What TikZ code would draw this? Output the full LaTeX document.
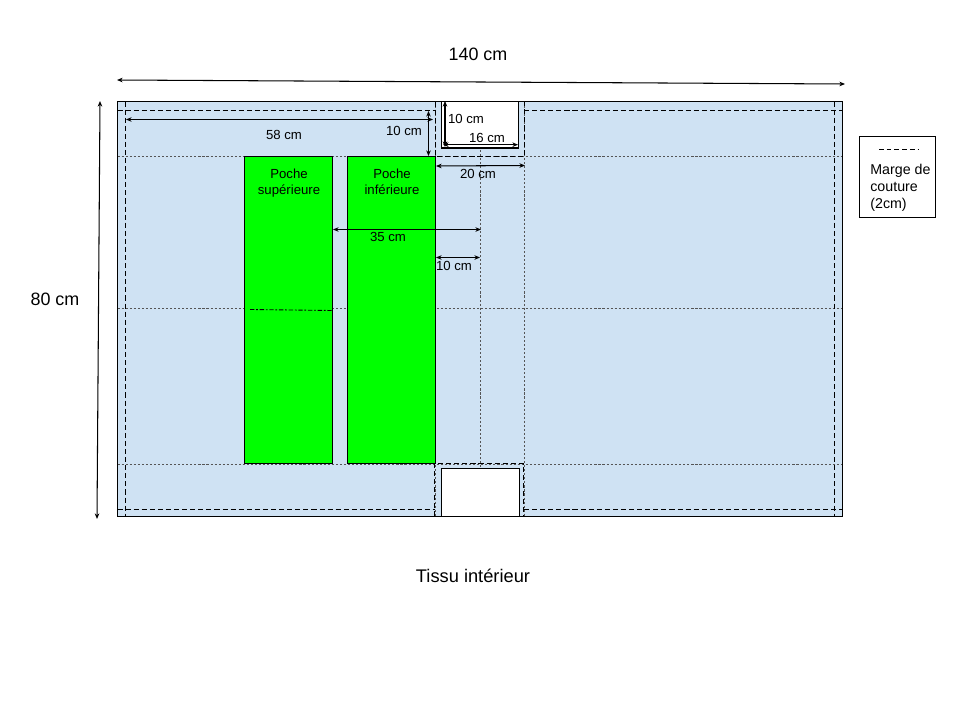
\documentclass[tikz,border=0pt]{standalone}
\usepackage{fontspec}
\setmainfont{Liberation Sans}
\usetikzlibrary{arrows.meta,positioning}
\definecolor{sheetColor}{HTML}{CFE2F3}
\definecolor{pocketColor}{HTML}{00FF00}
\definecolor{guideColor}{HTML}{555555}
\tikzset{
	panel/.style={draw, line width=0.7pt, inner sep=0, outer sep=0},
	seam/.style={line width=0.6pt, dash pattern=on 2.9pt off 1.7pt},
	guide/.style={guideColor, line width=0.5pt, dash pattern=on 1.2pt off 1.1pt},
	cote/.style={{Stealth[length=3.2pt,width=2.6pt]}-{Stealth[length=3.2pt,width=2.6pt]}, line width=0.6pt},
	small/.style={font=\fontsize{7.5}{9.2}\selectfont, inner sep=0, align=center},
	big/.style={font=\fontsize{10.2}{12}\selectfont, inner sep=0}
}
\begin{document}
\begin{tikzpicture}[x=0.02cm,y=-0.02cm]
	\useasboundingbox (0,0) rectangle (960,720);
	% tissu
	\node[panel, fill=sheetColor, minimum width=14.5cm, minimum height=8.3cm] (sheet) at (480,309) {};
	% reperes
	\draw[guide] (sheet.west |- 0,156.5) -- (sheet.east |- 0,156.5);
	\draw[guide] (sheet.west |- 0,308) -- (sheet.east |- 0,308);
	\draw[guide] (sheet.west |- 0,464.5) -- (sheet.east |- 0,464.5);
	\foreach \x in {435.5,480.5,524} {
		\draw[guide] (\x,101.5) -- (\x,516.5);
	}
	% marges de couture
	\draw[seam] (117.5,110.5) -- (435,110.5);
	\draw[seam] (524,110.5) -- (842.5,110.5);
	\draw[seam] (117.5,509.5) -- (435,509.5);
	\draw[seam] (524,509.5) -- (842.5,509.5);
	\draw[seam] (125.5,101.5) -- (125.5,516.5);
	\draw[seam] (834.5,101.5) -- (834.5,516.5);
	\draw[seam] (435.3,101.5) -- (435.3,156.3) -- (524.5,156.3) -- (524.5,101.5);
	\draw[seam] (434.5,516.5) -- (434.5,463.5) -- (523.5,463.5) -- (523.5,516.5);
	% poches
	\node[panel, fill=pocketColor, minimum width=1.76cm, minimum height=6.14cm] (pocketsup) at (288.5,310) {};
	\node[panel, fill=pocketColor, minimum width=1.76cm, minimum height=6.14cm] (pocketinf) at (391.5,310) {};
	\node[small] (labsup) at (289,183.2) {Poche\\supérieure};
	\node[small] (labinf) at (392,182) {Poche\\inférieure};
	\draw[seam, line width=0.5pt, dash pattern=on 2.5pt off 1pt on 1pt off 1pt] (250,309.5) -- (333,310.5);
	% encoches
	\node[panel, fill=white, minimum width=1.54cm, minimum height=0.93cm] (notchtop) at (480,124.75) {};
	\node[panel, fill=white, minimum width=1.56cm, minimum height=0.97cm] (notchbot) at (480.5,492.5) {};
	\draw[line width=0.7pt] (sheet.south west) -- (sheet.south east);
	% cotes
	\coordinate (w1) at (117,80);
	\coordinate (w2) at (845,84);
	\coordinate (h1) at (100,101);
	\coordinate (h2) at (97,519);
	\coordinate (a1) at (126,119.5);
	\coordinate (a2) at (433,119.5);
	\coordinate (b1) at (428.5,111);
	\coordinate (b2) at (428.5,156);
	\coordinate (c1) at (445,101);
	\coordinate (c2) at (445,147);
	\coordinate (d1) at (443,144.7);
	\coordinate (d2) at (518,144.7);
	\coordinate (e1) at (436,166);
	\coordinate (e2) at (525,165.5);
	\coordinate (f1) at (333,229.5);
	\coordinate (f2) at (481,229.5);
	\coordinate (g1) at (436,257.5);
	\coordinate (g2) at (480,257.5);
	\foreach \s/\t in {w1/w2,h1/h2,a1/a2,b1/b2,c1/c2,d1/d2,e1/e2,f1/f2,g1/g2} {
		\draw[cote] (\s) -- (\t);
	}
	\node[big] (lab140) at (478,54) {140 cm};
	\node[big] (lab80) at (55,299) {80 cm};
	\node[small] (lab58) at (284,135) {58 cm};
	\node[small] (lab10a) at (404,131) {10 cm};
	\node[small] (lab10b) at (466,119) {10 cm};
	\node[small] (lab16) at (487,138) {16 cm};
	\node[small] (lab20) at (478,174) {20 cm};
	\node[small] (lab35) at (388,237) {35 cm};
	\node[small] (lab10c) at (454,266) {10 cm};
	\node[big, font=\fontsize{10.4}{12}\selectfont] (title) at (473,576) {Tissu intérieur};
	% legende
	\node[panel, minimum width=1.52cm, minimum height=1.62cm] (legend) at (897.5,177) {};
	\coordinate (leg1) at (879,149.5);
	\coordinate (leg2) at (919,149.5);
	\draw[seam, line width=0.5pt, dash pattern=on 2.6pt off 1.8pt] (leg1) -- (leg2);
	\node[small, font=\fontsize{8.1}{9.7}\selectfont, align=left, anchor=west] (legtext) at (870,187.5) {Marge de\\couture\\(2cm)};
\end{tikzpicture}
\end{document}
